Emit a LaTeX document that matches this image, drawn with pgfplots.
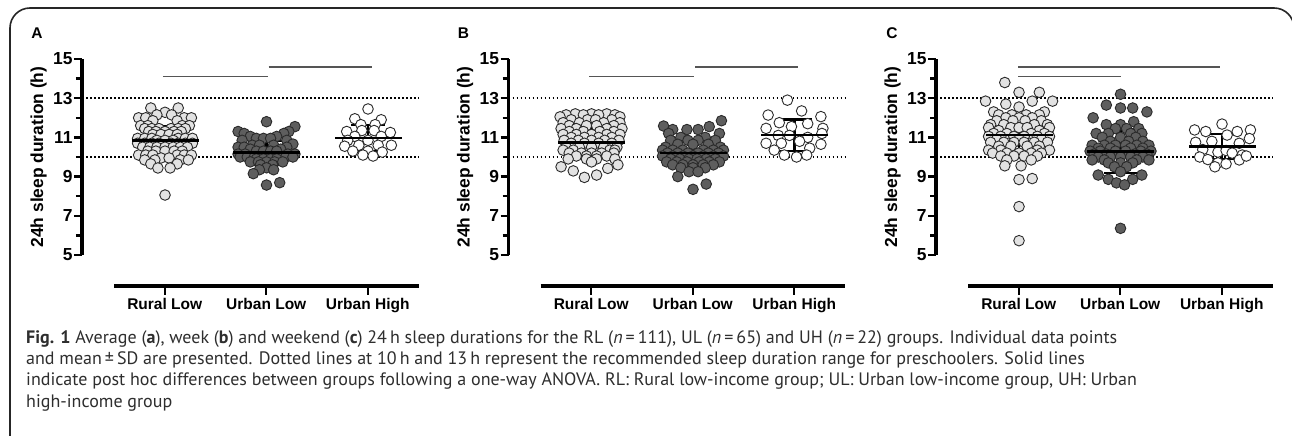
\documentclass[border=0pt]{standalone}
\usepackage{fontspec}
\setmainfont{Liberation Sans}
\newfontfamily\capfont{PT Sans}
\usepackage{pgfplots}
\pgfplotsset{compat=1.18}

\definecolor{rlfill}{HTML}{E2E2E2}
\definecolor{ulfill}{HTML}{5E5E5E}
\definecolor{edge}{HTML}{2A2A2A}
\definecolor{sigline}{HTML}{555555}

\newcommand\chartfont{\bfseries\fontsize{15.5bp}{18bp}\selectfont}
\newcommand\yfont{\bfseries\fontsize{17.4bp}{20bp}\selectfont}

\pgfplotsset{
  panel/.style={
    scale only axis, width=336.75bp, height=196bp,
    xmin=0.182, xmax=3.5, ymin=5, ymax=15,
    axis x line=none, axis y line*=left,
    ytick={5,7,...,15}, minor ytick={6,8,...,14},
    tick align=outside, major tick length=8bp, minor tick length=6bp,
    y axis line style={line width=3.5bp, black},
    tick style={line width=2.4bp, black},
    /pgf/number format/assume math mode=true,
    yticklabel style={font=\yfont, xshift=2bp},
    ylabel={24h sleep duration (h)},
    ylabel style={at={(axis description cs:-0.129,0.5)}, anchor=center, font=\yfont},
    anchor=south west, clip=false,
  },
  xpanel/.style={
    scale only axis, width=304.5bp, height=20bp,
    xmin=0.5, xmax=3.5, ymin=0, ymax=1,
    axis x line*=bottom, axis y line=none,
    xtick={1,2,3}, xticklabels={Rural Low,Urban Low,Urban High},
    tick align=outside, major tick length=9bp,
    x axis line style={line width=3.5bp, black},
    tick style={line width=2.4bp, black},
    ticklabel style={font=\chartfont},
    anchor=south west,
  },
  rl/.style={only marks, mark=*, mark size=5.3bp, mark options={fill=rlfill, draw=edge, line width=0.9bp}},
  ul/.style={only marks, mark=*, mark size=5.3bp, mark options={fill=ulfill, draw=edge, line width=0.9bp}},
  uh/.style={only marks, mark=*, mark size=5.3bp, mark options={fill=white, draw=edge, line width=0.9bp}},
  ref/.style={black, line width=1.8bp, dash pattern=on 1.6bp off 2.4bp},
  sig/.style={sigline, line width=1.5bp},
  msd/.style={only marks, mark=-, mark size=33.5bp, mark options={line width=2.6bp, black},
    error bars/.cd, y dir=both, y explicit,
    error bar style={line width=2.3bp, black},
    error mark options={rotate=90, mark size=17bp, line width=2.3bp, black}},
}

\begin{document}
\begin{tikzpicture}
\fill[white] (0,0) rectangle (1292bp,436bp);

% ---------------- A: average
\begin{axis}[panel, at={(82bp,181bp)}]
\addplot[ref] coordinates {(0.182,10) (3.5,10)};
\addplot[ref] coordinates {(0.182,13) (3.5,13)};
\addplot[sig] coordinates {(0.98,14.1) (2.01,14.1)};
\addplot[sig] coordinates {(2.02,14.6) (3.04,14.6)};
% rural low
\addplot[rl] coordinates {
(0.86,12.5) (1.13,12.5) (1.00,12.28) (0.92,12.15) (1.065,12.15)
(0.74,12.0) (0.81,12.0) (1.19,12.0) (1.26,12.0) (0.88,11.85) (1.12,11.85)
(0.76,11.6) (0.83,11.6) (1.17,11.6) (1.24,11.6)
(0.80,11.45) (0.87,11.45) (0.94,11.45) (1.06,11.45) (1.13,11.45) (1.20,11.45)
(0.84,11.3) (0.91,11.3) (1.00,11.3) (1.09,11.3) (1.16,11.3)
(0.88,11.15) (0.96,11.15) (1.04,11.15) (1.12,11.15)
(0.73,10.95) (0.80,10.95) (0.87,10.95) (1.13,10.95) (1.20,10.95) (1.27,10.95)
(0.92,10.85) (1.00,10.85) (1.08,10.85)
(0.73,10.7) (0.80,10.7) (0.87,10.7) (0.94,10.7) (1.06,10.7) (1.13,10.7) (1.20,10.7) (1.27,10.7)
(0.78,10.5) (0.85,10.5) (0.92,10.5) (1.00,10.5) (1.08,10.5) (1.15,10.5) (1.22,10.5)
(0.83,10.3) (0.91,10.3) (1.00,10.3) (1.09,10.3) (1.17,10.3)
(0.74,10.1) (0.81,10.1) (0.88,10.1) (1.12,10.1) (1.19,10.1) (1.26,10.1)
(0.96,9.95) (1.04,9.95) (0.80,9.85) (0.90,9.85) (1.15,9.85) (1.23,9.85)
(0.86,9.65) (1.12,9.65) (0.93,9.44) (1.05,9.44) (1.00,8.06)
};
% urban low
\addplot[ul] coordinates {
(2.00,11.8) (2.28,11.55) (1.72,11.3) (2.22,11.3) (1.78,11.2) (2.17,11.2)
(1.84,11.05) (2.10,11.05) (1.90,10.95) (1.97,10.95) (2.04,10.95)
(1.76,10.85) (2.20,10.85) (2.26,10.66)
(1.86,10.6) (1.93,10.6) (2.07,10.6)
(1.72,10.5) (1.78,10.5) (2.20,10.5) (1.84,10.4) (2.14,10.4)
(1.90,10.3) (1.97,10.3) (2.04,10.3) (2.10,10.3)
(1.72,10.15) (1.79,10.15) (2.21,10.15) (2.28,10.15)
(1.74,10.0) (1.81,10.0) (1.88,10.0) (2.12,10.0) (2.19,10.0) (2.26,10.0)
(1.90,9.9) (1.97,9.9) (2.04,9.9) (2.10,9.9)
(1.84,9.75) (1.92,9.75) (2.00,9.75) (2.08,9.75) (2.16,9.75)
(1.94,9.6) (2.06,9.6) (2.00,9.45) (1.93,9.35) (2.07,9.35)
(1.87,9.15) (2.00,8.57) (2.13,8.69)
};
% urban high
\addplot[uh] coordinates {
(3.00,12.45) (2.87,11.95) (3.13,11.9) (2.93,11.65) (3.07,11.65)
(2.79,11.3) (2.94,11.35) (3.06,11.35) (3.22,11.25)
(2.87,11.05) (3.13,11.05) (3.00,10.85) (2.80,10.85)
(3.23,10.6) (2.77,10.55) (2.91,10.6) (3.10,10.6)
(2.85,10.3) (3.00,10.3) (3.14,10.25) (2.95,10.1) (3.05,10.05)
};
\addplot[msd] coordinates {(1,10.85) +- (0,0.70) (2,10.22) +- (0,0.60) (3,10.97) +- (0,0.65)};
\end{axis}
\begin{axis}[xpanel, at={(114bp,150bp)}]
\end{axis}

% ---------------- B: week
\begin{axis}[panel, at={(508.5bp,181bp)}]
\addplot[ref] coordinates {(0.182,10) (3.5,10)};
\addplot[ref] coordinates {(0.182,13) (3.5,13)};
\addplot[sig] coordinates {(0.98,14.1) (2.01,14.1)};
\addplot[sig] coordinates {(2.02,14.6) (3.03,14.6)};
\addplot[rl] coordinates {
(0.84,12.2) (1.00,12.2) (1.15,12.2) (0.75,12.15) (0.92,12.15) (1.07,12.15) (1.23,12.15)
(0.69,12.05) (1.28,12.05) (0.80,11.9) (0.96,11.9) (1.04,11.9) (1.20,11.9)
(0.72,11.75) (0.88,11.75) (1.12,11.75) (1.28,11.75)
(0.78,11.6) (0.95,11.6) (1.05,11.6) (1.22,11.6)
(0.70,11.45) (0.85,11.45) (1.15,11.45) (1.30,11.45)
(0.78,11.3) (0.92,11.3) (1.08,11.3) (1.22,11.3)
(0.72,11.15) (0.85,11.15) (1.00,11.15) (1.15,11.15) (1.28,11.15)
(0.80,11.0) (0.93,11.0) (1.07,11.0) (1.20,11.0)
(0.73,10.85) (0.87,10.85) (1.00,10.85) (1.13,10.85) (1.27,10.85)
(0.80,10.7) (0.93,10.7) (1.07,10.7) (1.20,10.7)
(0.75,10.5) (0.88,10.5) (1.00,10.5) (1.12,10.5) (1.25,10.5)
(0.72,10.35) (0.82,10.35) (1.18,10.35) (1.23,10.35)
(0.78,10.2) (0.90,10.2) (1.00,10.2) (1.10,10.2) (1.22,10.2)
(0.85,10.05) (0.95,10.05) (1.05,10.05) (1.15,10.05)
(0.77,9.9) (0.95,9.9) (1.05,9.9) (1.23,9.9) (1.00,9.75)
(1.26,9.6) (0.70,9.5) (1.16,9.42) (0.82,9.29) (1.05,9.08) (0.93,8.96)
};
\addplot[ul] coordinates {
(2.28,11.85) (1.71,11.58) (2.16,11.55) (1.80,11.4) (1.94,11.4) (2.05,11.4)
(2.26,11.2) (1.76,11.2) (1.88,11.0) (2.12,11.0)
(1.95,10.85) (2.05,10.85) (2.22,10.85) (1.78,10.85)
(1.85,10.65) (2.00,10.65) (2.15,10.65) (1.73,10.5) (2.27,10.5)
(1.70,10.35) (1.80,10.35) (1.90,10.35) (2.10,10.35) (2.20,10.35) (2.30,10.35)
(1.75,10.2) (1.85,10.2) (1.95,10.2) (2.05,10.2) (2.15,10.2) (2.25,10.2)
(1.70,10.05) (1.80,10.05) (1.90,10.05) (2.00,10.05) (2.10,10.05) (2.20,10.05) (2.30,10.05)
(1.78,9.9) (1.87,9.9) (1.96,9.9) (2.04,9.9) (2.13,9.9) (2.22,9.9)
(1.74,9.75) (1.84,9.75) (1.94,9.75) (2.06,9.75) (2.16,9.75) (2.26,9.75)
(1.80,9.6) (1.90,9.6) (2.00,9.6) (2.10,9.6) (2.20,9.6)
(1.88,9.45) (2.00,9.45) (2.12,9.45) (1.96,9.25) (2.05,9.25)
(1.85,9.0) (2.13,8.62) (2.00,8.35)
};
\addplot[uh] coordinates {
(2.93,12.9) (2.74,12.14) (3.07,12.35) (3.26,12.06) (2.85,11.75) (3.13,11.7)
(2.72,11.46) (2.97,11.55) (3.28,11.46) (2.84,11.1) (2.95,11.1) (3.13,11.0) (3.27,11.2)
(2.72,10.7) (2.87,10.7) (3.05,10.8) (3.26,10.65) (2.80,10.35) (3.15,10.45)
(2.90,10.1) (3.02,10.0) (3.12,10.1)
};
\addplot[msd] coordinates {(1,10.75) +- (0,0.70) (2,10.20) +- (0,0.70) (3,11.12) +- (0,0.80)};
\end{axis}
\begin{axis}[xpanel, at={(540.5bp,150bp)}]
\end{axis}

% ---------------- C: weekend
\begin{axis}[panel, at={(936bp,181bp)}]
\addplot[ref] coordinates {(0.182,10) (3.5,10)};
\addplot[ref] coordinates {(0.182,13) (3.5,13)};
\addplot[sig] coordinates {(0.99,14.6) (2.98,14.6)};
\addplot[sig] coordinates {(0.99,14.1) (2.00,14.1)};
\addplot[rl] coordinates {
(0.86,13.8) (1.00,13.3) (1.20,13.3) (0.67,12.85) (1.33,12.85) (1.13,12.85)
(0.87,12.7) (1.00,12.55) (0.75,12.3) (1.25,12.3)
(0.80,12.15) (0.93,12.15) (1.07,12.15) (1.20,12.15) (0.87,12.0) (1.00,12.0) (1.13,12.0)
(0.78,11.85) (0.94,11.85) (1.06,11.85) (1.22,11.85)
(0.72,11.65) (0.85,11.65) (1.15,11.65) (1.28,11.65)
(0.70,11.5) (0.92,11.5) (1.00,11.5) (1.08,11.5) (1.30,11.5) (0.80,11.35) (1.20,11.35)
(0.75,11.2) (0.88,11.2) (1.12,11.2) (1.25,11.2)
(0.70,11.05) (0.82,11.05) (0.95,11.05) (1.05,11.05) (1.18,11.05) (1.30,11.05)
(0.78,10.9) (1.00,10.9) (1.22,10.9)
(0.72,10.75) (0.85,10.75) (0.95,10.75) (1.05,10.75) (1.15,10.75) (1.28,10.75)
(0.80,10.55) (0.92,10.55) (1.08,10.55) (1.20,10.55)
(0.70,10.35) (0.82,10.35) (1.18,10.35) (1.30,10.35)
(0.74,10.2) (0.88,10.2) (1.00,10.2) (1.12,10.2) (1.22,10.2)
(0.82,10.05) (0.95,10.05) (1.05,10.05) (1.18,10.05)
(0.88,9.85) (1.12,9.85) (0.86,9.55) (1.02,9.55)
(1.00,8.85) (1.13,8.9) (1.00,7.47) (1.00,5.73)
};
\addplot[ul] coordinates {
(2.00,13.2) (1.86,12.65) (2.00,12.5) (2.12,12.5) (2.26,12.3) (1.73,12.0) (2.13,11.8)
(1.86,11.65) (2.00,11.65) (1.95,11.45) (2.06,11.45) (2.18,11.45)
(1.76,11.2) (1.88,11.2) (2.10,11.2) (2.21,11.2) (1.82,11.0) (2.00,11.0) (2.15,11.0)
(1.90,10.8) (2.08,10.8) (2.22,10.8)
(1.72,10.6) (1.84,10.6) (1.95,10.6) (2.05,10.6) (2.16,10.6) (2.28,10.6)
(1.78,10.45) (1.90,10.45) (2.10,10.45) (2.22,10.45)
(1.70,10.3) (1.80,10.3) (1.95,10.3) (2.05,10.3) (2.20,10.3) (2.30,10.3)
(1.74,10.15) (1.86,10.15) (2.14,10.15) (2.26,10.15)
(1.78,10.0) (1.90,10.0) (2.00,10.0) (2.10,10.0) (2.22,10.0)
(1.72,9.85) (1.84,9.85) (2.16,9.85) (2.28,9.85)
(1.88,9.7) (2.00,9.7) (2.12,9.7) (1.94,9.5) (2.06,9.5) (2.00,9.25)
(1.78,9.08) (2.21,9.08) (1.88,8.86) (2.12,8.86) (1.96,8.68) (2.04,8.58) (2.00,6.36)
};
\addplot[uh] coordinates {
(3.00,11.68) (2.73,11.38) (3.28,11.38) (2.84,11.3) (3.15,11.3) (3.05,11.12)
(2.74,10.75) (2.90,10.8) (3.17,10.7) (3.27,10.94) (2.81,10.38) (2.96,10.25)
(3.04,10.33) (3.10,10.2) (2.78,10.0) (3.20,10.1) (2.86,9.87) (3.17,9.85)
(2.96,9.7) (3.04,9.65) (2.93,9.5) (3.24,10.05)
};
\addplot[msd] coordinates {(1,11.12) +- (0,1.07) (2,10.29) +- (0,1.12) (3,10.53) +- (0,0.65)};
\end{axis}
\begin{axis}[xpanel, at={(968bp,150bp)}]
\end{axis}

\node[font=\chartfont] at (37bp,403bp) {A};
\node[font=\chartfont] at (463.5bp,403bp) {B};
\node[font=\chartfont] at (892bp,403bp) {C};

\begin{scope}[every node/.style={anchor=base west, inner sep=0pt, text=black!82, font=\capfont\fontsize{18bp}{21bp}\selectfont}]
\node at (26bp,92bp) {\textbf{Fig. 1} Average (\textbf{a}), week (\textbf{b}) and weekend (\textbf{c}) 24\,h sleep durations for the RL (\textit{n}\,=\,111), UL (\textit{n}\,=\,65) and UH (\textit{n}\,=\,22) groups. Individual data points};
\node at (26bp,71bp) {and mean\,±\,SD are presented. Dotted lines at 10\,h and 13\,h represent the recommended sleep duration range for preschoolers. Solid lines};
\node at (26bp,50bp) {indicate post hoc differences between groups following a one-way ANOVA. RL: Rural low-income group; UL: Urban low-income group, UH: Urban};
\node at (26bp,29bp) {high-income group};
\end{scope}

\draw[line width=1.6bp, black!85, rounded corners=20bp] (10bp,-6bp) -- (10bp,428bp) -- (1294bp,428bp) -- (1294bp,300bp);

\pgfresetboundingbox
\path[use as bounding box] (0,0) rectangle (1292bp,436bp);
\end{tikzpicture}
\end{document}
